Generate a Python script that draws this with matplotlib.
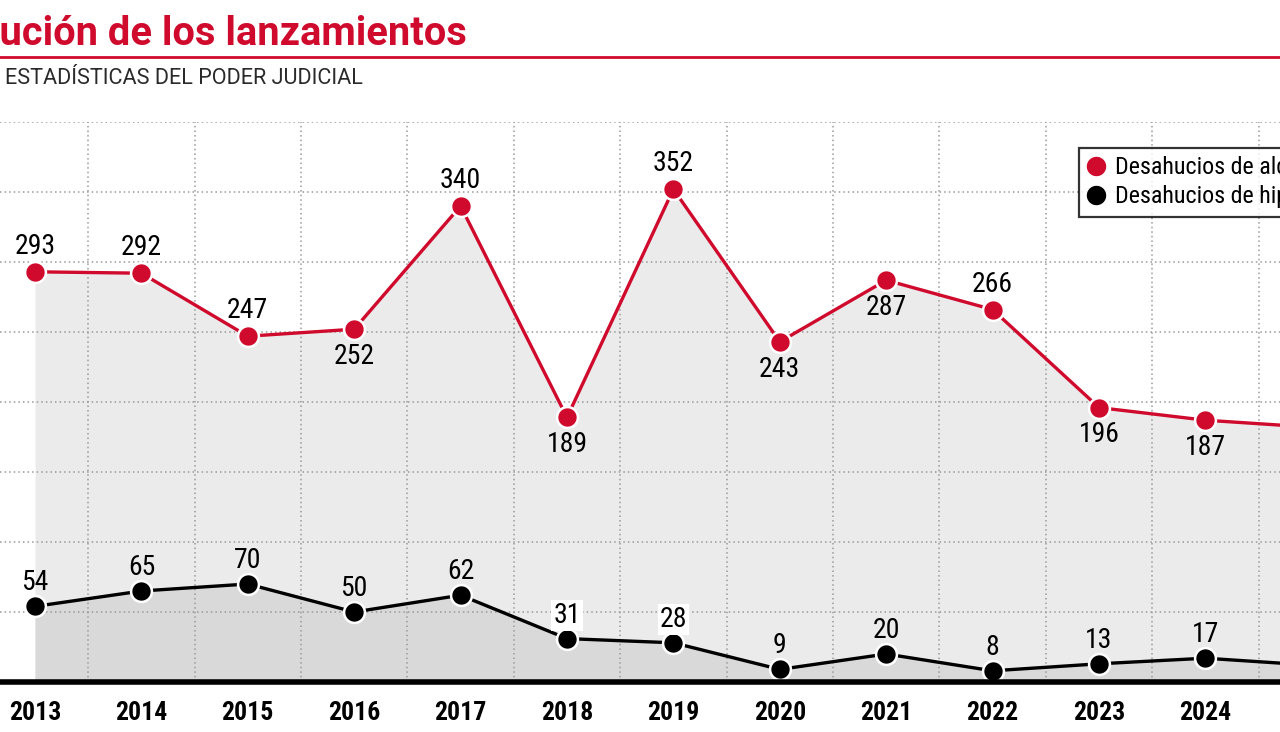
import numpy as np
import matplotlib.pyplot as plt
from matplotlib.lines import Line2D

years = [2013, 2014, 2015, 2016, 2017, 2018, 2019, 2020, 2021, 2022, 2023, 2024, 2025]
alquiler = [293, 292, 247, 252, 340, 189, 352, 243, 287, 266, 196, 187, 182]
hipoteca = [54, 65, 70, 50, 62, 31, 28, 9, 20, 8, 13, 17, 12]
# label above (1) or below (-1) the red points
alq_pos = [1, 1, 1, -1, 1, -1, 1, -1, -1, 1, -1, -1, -1]

RED = '#cf0a2c'
cond = ['Roboto Condensed', 'IBM Plex Sans Condensed', 'Roboto', 'DejaVu Sans']

fig = plt.figure(figsize=(12.8, 7.32), dpi=100)
W, H = 1280, 732
x_left = 2013 - 35 / 106.4
x_right = 2013 + (W - 35) / 106.4
ax = fig.add_axes([0, 1 - 682 / H, 1, 560 / H])

ax.fill_between(years, alquiler, color='#ebebeb', zorder=1, lw=0)
ax.fill_between(years, hipoteca, color='#d9d9d9', zorder=1.2, lw=0)

ax.set_yticks(np.arange(0, 401, 50))
ax.set_xticks(years)
ax.set_xticks(np.arange(2012.5, 2026, 1), minor=True)
ax.set_xlim(x_left, x_right)
ax.set_ylim(0, 400)
ax.set_axisbelow(False)
ax.grid(axis='y', which='major', color='#9a9a9a', linestyle=(0, (1, 2)), lw=1.1, zorder=1.5)
ax.grid(axis='x', which='minor', color='#9a9a9a', linestyle=(0, (1, 2)), lw=1.1, zorder=1.5)
for s in ax.spines.values():
    s.set_visible(False)
ax.tick_params(axis='y', length=0, labelleft=False)
ax.tick_params(axis='x', which='both', length=0)
ax.tick_params(axis='x', which='major', pad=13.5)
for lab in ax.get_xticklabels():
    lab.set_fontfamily(cond)
    lab.set_fontweight('bold')
    lab.set_fontsize(18.5)

ax.plot(years, alquiler, color=RED, lw=2.4, zorder=3, clip_on=False)
ax.plot(years, alquiler, 'o', color=RED, ms=15, mec='white', mew=1.8, zorder=4, clip_on=False)
ax.plot(years, hipoteca, color='black', lw=2.4, zorder=3, clip_on=False)
ax.plot(years, hipoteca, 'o', color='black', ms=15, mec='white', mew=1.8, zorder=4, clip_on=False)
ax.axhline(0, color='black', lw=4, zorder=5, clip_on=False)

for x, v, p in zip(years, alquiler, alq_pos):
    dy = 13 if p > 0 else -25
    ax.annotate(str(v), (x, v), xytext=(0, dy), textcoords='offset points',
                ha='center', va='baseline', fontsize=20, family=cond, zorder=6)
for x, v in zip(years, hipoteca):
    box = None
    if v in (31, 28):
        box = dict(facecolor='white', edgecolor='none', pad=1.5)
    ax.annotate(str(v), (x, v), xytext=(0, 11.5), textcoords='offset points',
                ha='center', va='baseline', fontsize=20, family=cond, zorder=6, bbox=box)

handles = [Line2D([], [], marker='o', ls='none', color=RED, ms=15, mec='white'),
           Line2D([], [], marker='o', ls='none', color='black', ms=15, mec='white')]
leg = fig.legend(handles, ['Desahucios de alquiler', 'Desahucios de hipoteca'],
                 loc='upper left', bbox_to_anchor=(1079 / W, 1 - 148 / H),
                 frameon=True, fancybox=False, edgecolor='black', borderaxespad=0,
                 handlelength=0.7, handletextpad=0.45, labelspacing=0.25, borderpad=0.35,
                 prop={'family': cond, 'size': 17.3})
leg.get_frame().set_linewidth(1.6)
leg.set_zorder(10)

fig.text(467 / W, 1 - 45 / H, 'Evolución de los lanzamientos', ha='right', va='baseline',
         color=RED, fontsize=28.7, fontweight='bold', family='Roboto')
fig.add_artist(Line2D([0, 1], [1 - 57 / H, 1 - 57 / H], color=RED, lw=2))
fig.text(5 / W, 1 - 84 / H, 'ESTADÍSTICAS DEL PODER JUDICIAL', ha='left', va='baseline',
         color='#2a2a2a', fontsize=15.6, family=['Roboto', 'DejaVu Sans'])

fig.savefig('out.png', dpi=100)
